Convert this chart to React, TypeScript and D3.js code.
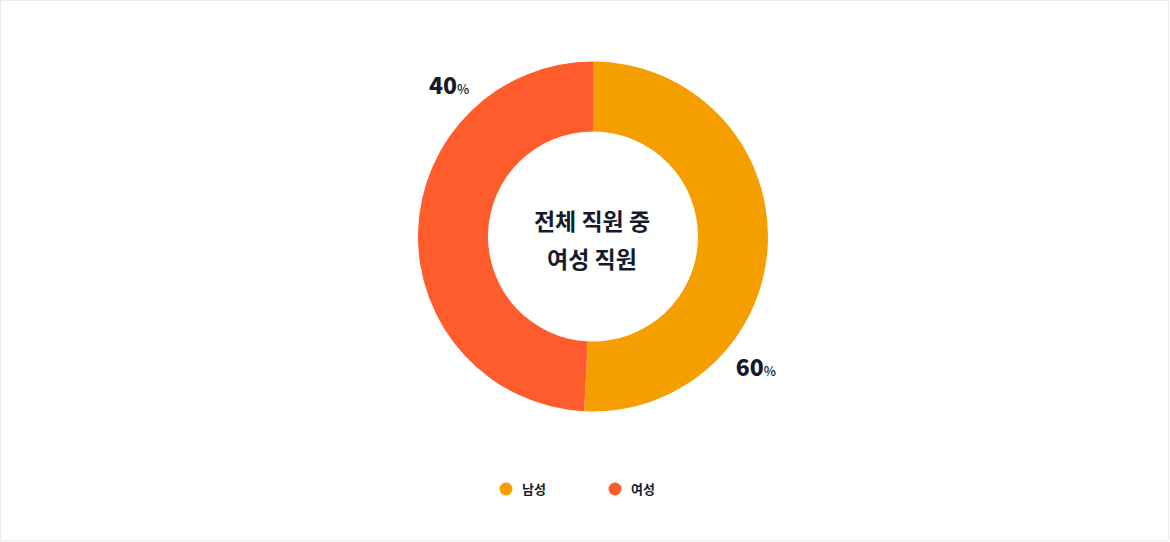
import React, { useEffect, useRef } from "react";
import * as d3 from "d3";

const categories = ["남성", "여성"];
const sliceValues = [50.8, 49.2];
const labelTexts = ["60", "40"];
const colors = ["#F59E00", "#FF5C2E"];
const centerLines = ["전체 직원 중", "여성 직원"];

const W = 1170;
const H = 542;

export default function App() {
  const ref = useRef<SVGSVGElement | null>(null);

  useEffect(() => {
    document.body.style.margin = "0";
    const svg = d3.select(ref.current);
    svg.selectAll("*").remove();
    const font = "'Noto Sans CJK KR', 'Noto Sans', sans-serif";

    svg
      .append("rect")
      .attr("x", 0.5)
      .attr("y", 0.5)
      .attr("width", W - 2)
      .attr("height", H - 2)
      .attr("fill", "#fff")
      .attr("stroke", "#ebebeb");

    const cx = 593;
    const cy = 236.5;
    const outer = 175;
    const inner = 105;

    const pie = d3.pie<number>().sort(null).value((d) => d);
    const arcs = pie(sliceValues);
    const arc = d3.arc<d3.PieArcDatum<number>>().innerRadius(inner).outerRadius(outer);

    const g = svg.append("g").attr("transform", `translate(${cx},${cy})`);
    g.selectAll("path.slice")
      .data(arcs)
      .join("path")
      .attr("class", "slice")
      .attr("d", arc as any)
      .attr("fill", (_d, i) => colors[i]);

    // label positions (angle in degrees clockwise from top, radius) for text baseline
    const labelPos = [
      { a: 130.6, r: 214.5 },
      { a: 314.7, r: 202.6 },
    ];
    arcs.forEach((_d, i) => {
      const a = (labelPos[i].a * Math.PI) / 180;
      const x = Math.sin(a) * labelPos[i].r;
      const y = -Math.cos(a) * labelPos[i].r;
      const t = g
        .append("text")
        .attr("x", x)
        .attr("y", y)
        .attr("text-anchor", "middle")
        .attr("font-family", font)
        .attr("fill", "#161b2b");
      t.append("tspan").attr("font-size", 23).attr("font-weight", 800).text(labelTexts[i]);
      t.append("tspan").attr("font-size", 13).attr("font-weight", 500).text("%");
    });

    centerLines.forEach((line, i) => {
      g.append("text")
        .attr("x", -1)
        .attr("y", -6.5 + i * 37.5)
        .attr("text-anchor", "middle")
        .attr("font-family", font)
        .attr("font-weight", 700)
        .attr("font-size", 23)
        .attr("fill", "#161b2b")
        .text(line);
    });

    const legend = svg.append("g").attr("transform", `translate(506,489)`);
    categories.forEach((c, i) => {
      const lg = legend.append("g").attr("transform", `translate(${i * 109},0)`);
      lg.append("circle").attr("r", 6.5).attr("fill", colors[i]);
      lg.append("text")
        .attr("x", 16)
        .attr("y", 5)
        .attr("font-family", font)
        .attr("font-weight", 700)
        .attr("font-size", 13)
        .attr("fill", "#161b2b")
        .text(c);
    });
  }, []);

  return (
    <svg
      ref={ref}
      width={W}
      height={H}
      style={{ position: "absolute", left: 0, top: 0, display: "block" }}
    />
  );
}
